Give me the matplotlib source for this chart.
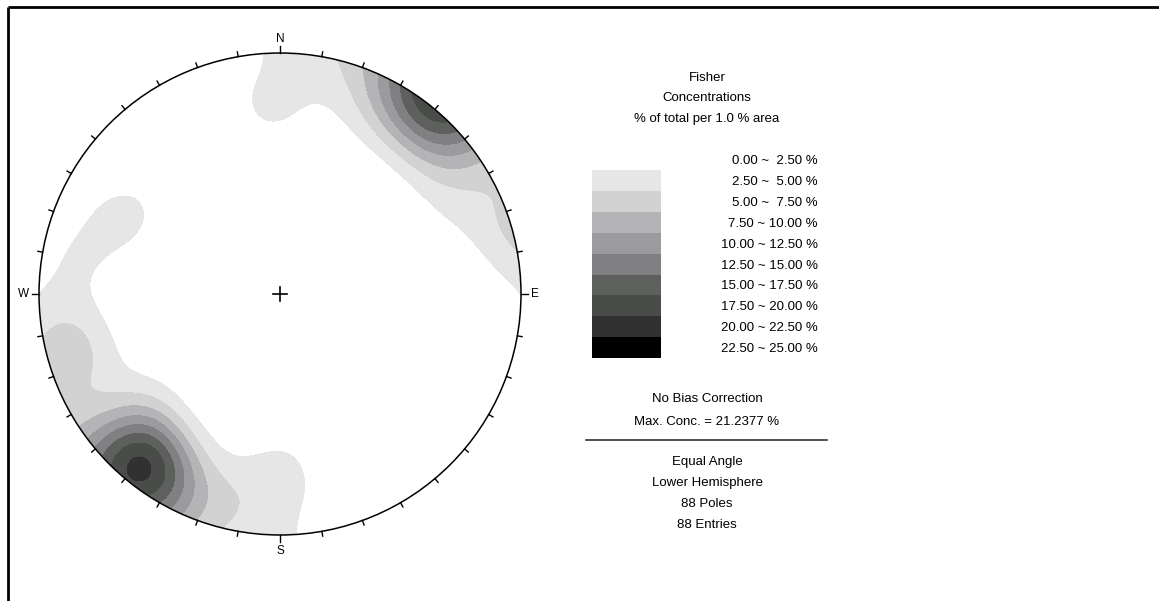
import numpy as np
import matplotlib
matplotlib.use("Agg")
from matplotlib import pyplot as plt
from matplotlib.patches import Circle, Rectangle

plt.rcParams['font.family'] = ['Liberation Sans', 'DejaVu Sans']

# pole groups (trend, plunge in degrees, number of poles)
# SW set, S, W, N, NE set, then scattered single poles below the lowest contour
pole_trend = [219, 223, 214, 228, 209, 233, 204, 197, 190,
              180, 187,
              297, 286, 277, 256, 247,
              357, 6,
              37, 43, 50, 30, 22, 55, 62, 68, 40,
              120, 140, 100, 150, 60, 20, 330, 300, 250, 200, 170,
              110, 130, 110, 30, 270, 210, 320, 155, 75, 180, 0,
              135, 235, 345]
pole_plunge = [7, 11, 5, 15, 9, 21, 4, 8, 5,
               16, 9,
               19, 13, 8, 5, 12,
               14, 3,
               1, 2, 3, 6, 10, 10, 12, 6, 9,
               20, 35, 45, 60, 50, 40, 40, 55, 45, 40, 35,
               40, 8, 70, 70, 75, 65, 20, 5, 30, 85, 60,
               50, 50, 55]
pole_count = [8, 4, 3, 2, 2, 1, 2, 1, 1,
              3, 1,
              3, 1, 2, 6, 1,
              3, 1,
              4, 4, 3, 2, 1, 1, 1, 1, 1,
              1, 1, 1, 1, 1, 1, 1, 1, 1, 1, 1,
              1, 1, 1, 1, 1, 1, 1, 1, 1, 1, 1,
              1, 1, 1]

kappa = 38.0
area_pct = 1.0  # counting area, % of the sphere
levels = [0.0, 2.5, 5.0, 7.5, 10.0, 12.5, 15.0, 17.5, 20.0, 22.5, 25.0]
fill_colors = ['#ffffff', '#e6e6e6', '#d2d2d2', '#b4b3b5', '#9b9a9c',
               '#807f81', '#5e605e', '#4a4c4a', '#313131', '#000000']
max_conc = 21.2377
info_lines = ['Equal Angle', 'Lower Hemisphere', '88 Poles', '88 Entries']

W, H = 1159, 601
cx, cy, R = 280.0, 294.0, 241.0

fig = plt.figure(figsize=(W / 100, H / 100), dpi=100)
bg = fig.add_axes([0, 0, 1, 1])
bg.set_xlim(0, W)
bg.set_ylim(H, 0)
bg.axis('off')

# frame (top and left only)
bg.plot([7.5, W], [6.5, 6.5], color='black', lw=2.0, solid_capstyle='butt')
bg.plot([7.5, 7.5], [6.5, H], color='black', lw=2.0, solid_capstyle='butt')

# stereonet axes in unit-circle coordinates
span = 1.15
ax = fig.add_axes([(cx - span * R) / W, (H - cy - span * R) / H,
                   2 * span * R / W, 2 * span * R / H])
ax.set_xlim(-span, span)
ax.set_ylim(-span, span)
ax.set_aspect('equal')
ax.axis('off')
ax.patch.set_alpha(0)

# grid -> direction vectors (lower hemisphere, equal angle)
g = np.linspace(-1.03, 1.03, 500)
X, Y = np.meshgrid(g, g)
r = np.hypot(X, Y)
plunge = np.pi / 2 - 2 * np.arctan(r)
trend = np.arctan2(X, Y)
vx = np.cos(plunge) * np.sin(trend)
vy = np.cos(plunge) * np.cos(trend)
vz = np.sin(plunge)

t = np.radians(pole_trend)
p = np.radians(pole_plunge)
px = np.cos(p) * np.sin(t)
py = np.cos(p) * np.cos(t)
pz = np.sin(p)
n_total = float(np.sum(pole_count))

# Fisher kernel, poles treated as axes
dens = np.zeros_like(X)
for i in range(len(pole_count)):
    c = vx * px[i] + vy * py[i] + vz * pz[i]
    dens += pole_count[i] * (np.exp(kappa * (c - 1)) + np.exp(-kappa * (c + 1)))
dens *= kappa / (2 * np.pi * (1 - np.exp(-2 * kappa))) * (area_pct / 100 * 4 * np.pi) * 100 / n_total
print('max', dens[r <= 1].max(), 'n', n_total)

clip = Circle((0, 0), 1.0, transform=ax.transData)
cs = ax.contourf(X, Y, dens, levels=levels, colors=fill_colors, extend='max')
cs.set_clip_path(clip)

ax.add_patch(Circle((0, 0), 1.0, fill=False, ec='black', lw=1.1))

# ticks every 10 degrees
for az in range(0, 360, 10):
    a = np.radians(az)
    s, co = np.sin(a), np.cos(a)
    L = 0.03 if az % 90 == 0 else 0.02
    ax.plot([s, s * (1 + L)], [co, co * (1 + L)], color='black', lw=1.0)
for lab, az, ha, va, off in [('N', 0, 'center', 'bottom', 1.035), ('E', 90, 'left', 'center', 1.04),
                             ('S', 180, 'center', 'top', 1.04), ('W', 270, 'right', 'center', 1.04)]:
    a = np.radians(az)
    ax.text(np.sin(a) * off, np.cos(a) * off, lab, ha=ha, va=va, fontsize=8.5)

# center cross
ax.plot([-0.031, 0.031], [0, 0], color='black', lw=1.2)
ax.plot([0, 0], [-0.031, 0.031], color='black', lw=1.2)

# legend text
tx = 707
fs = 9.5
for yy, s in [(78, 'Fisher'), (98, 'Concentrations'), (119, '% of total per 1.0 % area')]:
    bg.text(tx, yy, s, ha='center', va='center', fontsize=fs)

row_h = 20.9
for i in range(len(levels) - 1):
    lo, hi = levels[i], levels[i + 1]
    hs = f"{hi:.2f}" if hi >= 10 else f" {hi:.2f}"
    y_mid = 170 + row_h * (i - 0.5) + 1.5
    bg.text(818, y_mid, f"{lo:.2f} ~ {hs} %", ha='right', va='center', fontsize=fs)
    if i > 0:
        bg.add_patch(Rectangle((592, 170 + row_h * (i - 1)), 69, row_h,
                               facecolor=fill_colors[i], edgecolor='none'))

bg.text(tx, 399, 'No Bias Correction', ha='center', va='center', fontsize=fs)
bg.text(tx, 422, f'Max. Conc. = {max_conc:.4f} %', ha='center', va='center', fontsize=fs)
bg.plot([586, 827], [440, 440], color='#333333', lw=1.2)
for k, s in enumerate(info_lines):
    bg.text(tx, 462 + 21 * k, s, ha='center', va='center', fontsize=fs)

fig.savefig('out.png', dpi=100)
